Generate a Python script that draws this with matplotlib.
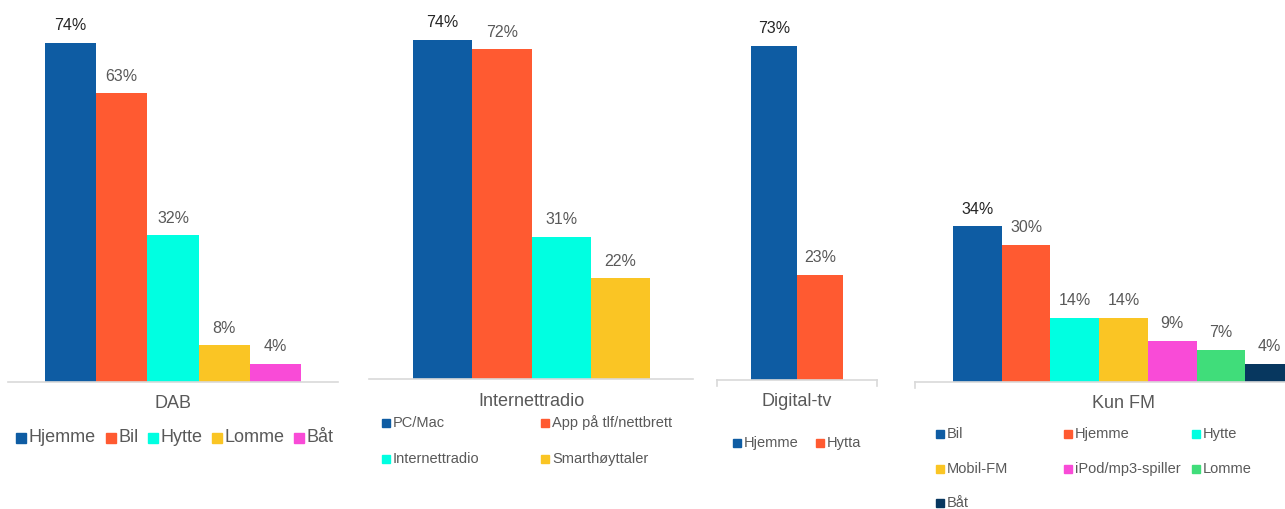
import matplotlib.pyplot as plt
from matplotlib.patches import Rectangle

plt.rcParams['font.family'] = ['Liberation Sans', 'DejaVu Sans']

# Data per panel.
dab_labels = ["Hjemme", "Bil", "Hytte", "Lomme", "Båt"]
dab_values = [74, 63, 32, 8, 4]

inet_labels = ["PC/Mac", "App på tlf/nettbrett", "Internettradio", "Smarthøyttaler"]
inet_values = [74, 72, 31, 22]

dtv_labels = ["Hjemme", "Hytta"]
dtv_values = [73, 23]

fm_labels = ["Bil", "Hjemme", "Hytte", "Mobil-FM", "iPod/mp3-spiller", "Lomme", "Båt"]
fm_values = [34, 30, 14, 14, 9, 7, 4]

# Colours.
blue   = "#0E5CA3"
orange = "#FF5A31"
cyan   = "#00FFE1"
yellow = "#FAC524"
pink   = "#F94BD7"
green  = "#40DD7A"
navy   = "#07375F"
grey_text = "#595959"
dark_text = "#262626"
axis_grey = "#D9D9D9"

W, H = 1285, 509
fig = plt.figure(figsize=(W/100, H/100), dpi=100)

px_per_pct = 4.58


def panel(values, colors, x0, x1, base, bar_left, bar_w, end_ticks=()):
  ax = fig.add_axes([x0/W, 1 - base/H, (x1 - x0)/W, base/H])
  n = len(values)
  left = -0.5 - (bar_left - x0)/bar_w
  ax.set_xlim(left, left + (x1 - x0)/bar_w)
  ax.set_ylim(0, base/px_per_pct)
  for i in range(n):
    bars = ax.bar(i, values[i], width=1.0, color=colors[i], zorder=2)
    ax.bar_label(bars, labels=[f"{values[i]}%"], padding=7,
                 fontsize=11.5, color=dark_text if i == 0 else grey_text)
  for side in ["top", "left", "right"]:
    ax.spines[side].set_visible(False)
  ax.spines["bottom"].set_color(axis_grey)
  ax.spines["bottom"].set_linewidth(1.2)
  ax.set_xticks([])
  ax.set_yticks([])
  ax.patch.set_alpha(0)
  for xt in end_ticks:
    fig.add_artist(plt.Line2D([xt/W, xt/W], [1 - base/H, 1 - (base + 6)/H],
                              color=axis_grey, lw=1.2))
  return ax


def legend(labels, colors, positions, size, fontsize):
  for lab, col, (x, y) in zip(labels, colors, positions):
    fig.add_artist(Rectangle((x/W, 1 - (y + size/2)/H), size/W, size/H,
                             color=col, transform=fig.transFigure))
    fig.text((x + size + 3)/W, 1 - y/H, lab, fontsize=fontsize,
             color=grey_text, va="center", ha="left")


def title(text, x, y):
  fig.text(x/W, 1 - y/H, text, fontsize=13, color=grey_text, ha="center", va="center")


# DAB
dab_colors = [blue, orange, cyan, yellow, pink]
panel(dab_values, dab_colors, 8, 338, 382, 45, 51.2)
title("DAB", 173, 404)
legend(dab_labels, dab_colors,
       [(16, 438), (106, 438), (148, 438), (212, 438), (294, 438)], 10, 13)

# Internettradio
inet_colors = [blue, orange, cyan, yellow]
panel(inet_values, inet_colors, 369, 693, 379, 413, 59.3)
title("Internettradio", 532, 402)
legend(inet_labels, inet_colors,
       [(382, 423), (541, 423), (382, 459), (541, 459)], 8, 10.5)

# Digital-tv
dtv_colors = [blue, orange]
panel(dtv_values, dtv_colors, 717, 877, 380, 751, 46, end_ticks=(717, 877))
title("Digital-tv", 797, 402)
legend(dtv_labels, dtv_colors, [(733, 443), (816, 443)], 8, 10.5)

# Kun FM
fm_colors = [blue, orange, cyan, yellow, pink, green, navy]
panel(fm_values, fm_colors, 915, 1285, 382, 953, 48.7, end_ticks=(915,))
title("Kun FM", 1123, 403)
legend(fm_labels, fm_colors,
       [(936, 434), (1064, 434), (1192, 434),
        (936, 469), (1064, 469), (1192, 469),
        (936, 503)], 8, 10.5)

fig.savefig("out.png", dpi=100)
